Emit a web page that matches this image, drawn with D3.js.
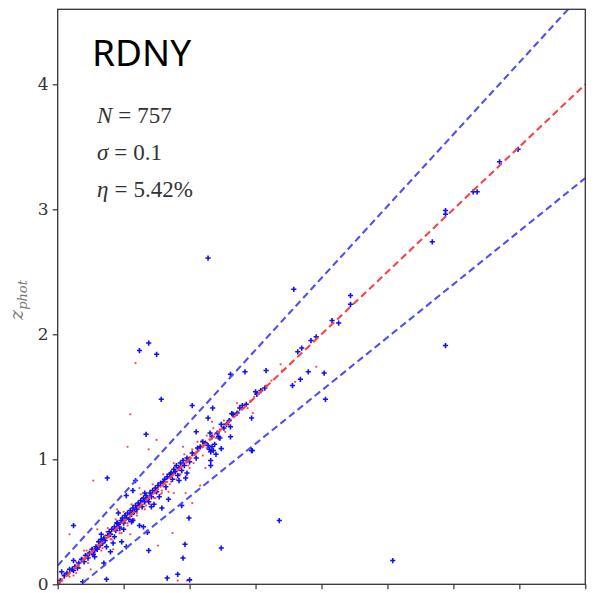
<!DOCTYPE html>
<html><head><meta charset="utf-8">
<script src="https://cdn.jsdelivr.net/npm/d3@7"></script>
<style>html,body{margin:0;padding:0;background:#fff;overflow:hidden}</style>
</head><body>
<script>
// ---- data (zspec, zphot) ----
const xTicks = [0,0.5,1,1.5,2,2.5,3,3.5,4];
const yTicks = [0,1,2,3,4];
const titleText = "RDNY";
const statsLines = [["N","757"],["σ","0.1"],["η","5.42%"]];

const blueMain = [
[0.02,0.03],[0.03,0.10],[0.05,0.07],[0.07,0.09],[0.09,0.12],[0.11,0.12],[0.12,0.11],[0.12,0.19],[0.13,0.14],[0.15,0.13],
[0.16,0.17],[0.18,0.20],[0.19,0.02],[0.20,0.18],[0.21,0.23],[0.23,0.21],[0.24,0.25],[0.26,0.28],[0.27,0.24],[0.28,0.27],
[0.29,0.30],[0.30,0.28],[0.31,0.34],[0.32,0.31],[0.33,0.36],[0.34,0.33],[0.35,0.17],[0.35,0.37],[0.36,0.35],[0.37,0.30],
[0.37,0.04],[0.38,0.39],[0.39,0.42],[0.40,0.26],[0.40,0.40],[0.41,0.44],[0.42,0.33],[0.43,0.46],[0.44,0.43],[0.45,0.49],
[0.46,0.48],[0.46,0.57],[0.47,0.45],[0.48,0.51],[0.485,0.34],[0.49,0.53],[0.50,0.49],[0.51,0.55],[0.52,0.30],[0.52,0.53],
[0.53,0.57],[0.54,0.52],[0.55,0.59],[0.56,0.56],[0.57,0.51],[0.57,0.61],[0.58,0.58],[0.59,0.63],[0.60,0.60],[0.61,0.65],
[0.62,0.47],[0.62,0.63],[0.63,0.67],[0.64,0.62],[0.65,0.46],[0.65,0.69],[0.66,0.66],[0.67,0.71],[0.68,0.415],[0.68,0.68],
[0.69,0.66],[0.69,0.27],[0.70,0.73],[0.71,0.70],[0.72,0.75],[0.73,0.64],[0.74,0.77],[0.75,0.74],[0.76,0.79],[0.78,0.81],
[0.79,0.61],[0.80,0.82],[0.81,0.84],[0.83,0.86],[0.84,0.68],[0.85,0.88],[0.86,0.89],[0.87,0.84],[0.88,0.92],[0.89,0.90],
[0.90,0.95],[0.91,0.87],[0.92,0.93],[0.93,0.97],[0.94,0.63],[0.94,0.91],[0.95,0.99],[0.96,0.95],[0.97,0.85],[0.98,1.01],
[0.995,0.53],[1.00,0.98],[1.02,1.05],[1.05,1.01],[1.05,1.22],[1.06,1.09],[1.08,1.10],[1.10,1.14],[1.12,1.13],[1.14,1.11],
[1.15,1.08],[1.16,1.06],[1.16,0.99],[1.16,0.95],[1.17,1.10],[1.18,1.07],[1.19,1.12],[1.20,1.04],[1.21,1.21],[1.22,1.18],
[1.24,1.085],[1.24,1.28],[1.26,1.25],[1.28,1.28],[1.30,1.31],[1.31,1.26],[1.33,1.36],[1.36,1.37],[1.38,1.41],[1.40,1.43],
[1.43,1.44],[1.47,1.33],[1.475,1.07],[1.50,1.54],[1.51,1.52],[1.54,1.55],[1.57,1.57],
[0.28,0.22],[0.33,0.40],[0.43,0.38],[0.50,0.44],[0.56,0.50],[0.66,0.73],[0.71,0.62],[0.77,0.70],[0.82,0.78],[0.92,0.83]
];
const blueOut = [
[0.12,0.47],[0.376,0.85],[0.59,0.83],[0.57,0.75],[0.52,0.71],[0.45,0.49],[0.62,1.87],[0.69,1.93],[0.75,1.84],[0.785,1.48],
[0.67,1.20],[1.02,1.43],[1.175,1.41],[1.32,1.365],[1.14,1.33],[1.23,1.17],[1.31,1.18],[1.155,1.21],[1.17,1.18],[1.14,2.61],
[1.31,1.68],[1.42,1.70],[1.58,1.71],[1.78,1.59],[1.79,2.36],[1.82,1.86],[1.84,1.64],[1.85,1.89],[1.90,1.70],[1.92,1.95],
[1.96,1.98],[2.02,1.69],[2.03,1.48],[2.08,2.11],[2.13,2.09],[2.22,2.24],[2.22,2.31],[2.84,2.74],[2.94,2.96],[2.94,2.99],
[2.94,1.91],[3.15,3.14],[3.18,3.14],[3.35,3.38],[3.49,3.48],[2.54,0.19],[1.68,0.51],[0.83,0.05],[0.91,0.08],[1.00,0.035],
[0.95,0.21],[0.965,0.32],[1.24,0.29],[0.98,0.89],[0.86,0.89],[1.47,1.07]
];
const redMain = [
[0.01,0.01],[0.03,0.04],[0.05,0.05],[0.06,0.08],[0.08,0.07],[0.10,0.11],[0.12,0.12],[0.13,0.15],[0.15,0.16],[0.16,0.14],
[0.18,0.19],[0.19,0.21],[0.21,0.20],[0.22,0.24],[0.24,0.23],[0.25,0.26],[0.26,0.29],[0.27,0.27],[0.28,0.30],[0.29,0.28],
[0.30,0.31],[0.31,0.29],[0.32,0.33],[0.33,0.35],[0.34,0.32],[0.35,0.36],[0.36,0.39],[0.37,0.37],[0.38,0.40],[0.39,0.38],
[0.40,0.42],[0.41,0.40],[0.42,0.44],[0.43,0.43],[0.44,0.46],[0.45,0.44],[0.46,0.47],[0.47,0.49],[0.48,0.46],[0.49,0.50],
[0.50,0.52],[0.51,0.50],[0.52,0.54],[0.53,0.53],[0.54,0.56],[0.55,0.54],[0.56,0.58],[0.57,0.57],[0.58,0.60],[0.59,0.59],
[0.60,0.62],[0.61,0.60],[0.62,0.65],[0.63,0.63],[0.64,0.66],[0.65,0.64],[0.66,0.68],[0.67,0.67],[0.68,0.70],[0.69,0.68],
[0.70,0.71],[0.71,0.73],[0.72,0.72],[0.73,0.75],[0.74,0.73],[0.75,0.77],[0.76,0.76],[0.77,0.79],[0.78,0.78],[0.79,0.81],
[0.80,0.79],[0.81,0.83],[0.82,0.84],[0.83,0.82],[0.84,0.85],[0.85,0.87],[0.86,0.86],[0.87,0.88],[0.88,0.90],[0.89,0.89],
[0.90,0.91],[0.91,0.93],[0.92,0.92],[0.93,0.94],[0.94,0.96],[0.95,0.95],[0.96,0.97],[0.97,0.99],[0.98,0.98],[0.99,1.00],
[1.00,1.02],[1.01,1.01],[1.02,1.03],[1.03,1.05],[1.04,1.04],[1.05,1.06],[1.06,1.08],[1.07,1.07],[1.08,1.09],[1.09,1.11],
[1.10,1.10],[1.11,1.12],[1.12,1.14],[1.13,1.13],[1.15,1.16],[1.17,1.18],[1.19,1.20],[1.21,1.22],[1.23,1.24],[1.25,1.26],
[1.27,1.28],[1.29,1.30],[1.31,1.32],[1.33,1.34],[1.35,1.36],[1.37,1.38],[1.40,1.41],[1.43,1.44],[1.46,1.47],[1.49,1.50],
[1.52,1.53],[1.55,1.56],[1.58,1.59],
[0.04,0.07],[0.09,0.06],[0.14,0.18],[0.17,0.13],[0.22,0.27],[0.26,0.23],[0.31,0.35],[0.34,0.29],[0.37,0.42],[0.40,0.36],
[0.44,0.49],[0.47,0.43],[0.51,0.56],[0.53,0.49],[0.57,0.63],[0.60,0.57],[0.64,0.69],[0.67,0.63],[0.70,0.75],[0.73,0.69],
[0.76,0.81],[0.79,0.75],[0.83,0.88],[0.86,0.82],[0.89,0.94],[0.92,0.88],[0.95,1.00],[0.99,0.95],[1.02,1.08],[1.05,1.02],
[1.09,1.15],[1.13,1.09],[1.16,1.21],[1.20,1.17],[1.26,1.31],[1.30,1.27],[1.38,1.43],[1.44,1.41],[1.62,1.63],[1.70,1.71]
];
const redOut = [
[0.59,1.77],[0.55,1.36],[0.53,1.10],[0.75,1.155],[0.69,1.08],[0.27,0.83],[0.09,0.40],[0.87,0.41],[0.76,0.31],[1.02,0.65],
[1.08,0.79],[1.17,1.30],[1.48,1.37],[1.69,1.76],[1.80,1.62],[1.96,1.74],[0.91,0.03],[0.98,0.03],[0.19,0.19],[0.12,0.07],
[0.14,0.09],[0.20,0.27],[0.23,0.17],[0.33,0.27],[0.38,0.45],[0.41,0.36],[0.44,0.52],[0.47,0.41],[0.50,0.58],[0.53,0.47],
[0.56,0.64],[0.58,0.52],[0.60,0.55],[0.63,0.72],[0.66,0.60],[0.70,0.64],[0.72,0.80],[0.74,0.69],[0.78,0.72],[0.80,0.88],
[0.82,0.76],[0.85,0.80],[0.88,0.97],[0.90,0.84],[0.93,0.88],[0.96,1.04],[1.00,0.93],[1.03,0.97],[1.06,1.14],[1.10,1.03],
[1.13,1.19],[1.18,1.25],[1.22,1.16],[1.27,1.22],[1.36,1.45],[1.12,0.93],[0.97,0.73],[0.62,0.77],[0.45,0.60],[0.30,0.44],
[0.25,0.12],[0.42,0.28],[0.55,0.40],[0.95,1.10],[0.79,0.73],[0.84,0.74],[0.88,0.73],[0.46,0.58],[0.485,0.41],[0.31,0.30]
];
const dashX = [0, 4];

// ---- layout ----
const W = 600, H = 593;
const L = 57.7, R = 585.3, T = 9.3, B = 584.3;
const x = d3.scaleLinear().domain([0,4]).range([L,R]);
const y = d3.scaleLinear().domain([0,4.6]).range([B,T]);

const svg = d3.select("body").append("svg").attr("width",W).attr("height",H);
svg.append("defs").append("clipPath").attr("id","clip")
  .append("rect").attr("x",L).attr("y",T).attr("width",R-L).attr("height",B-T);

const plot = svg.append("g").attr("clip-path","url(#clip)");

// red dots
plot.append("g").selectAll("circle").data(redMain.concat(redOut)).join("circle")
  .attr("cx",d=>x(d[0])).attr("cy",d=>y(d[1])).attr("r",1.15)
  .attr("fill","#ff2020").attr("fill-opacity",0.8);

// blue plus markers
plot.append("g").selectAll("path").data(blueMain.concat(blueOut)).join("path")
  .attr("transform",d=>`translate(${x(d[0])},${y(d[1])})`)
  .attr("d","M-2.6,0H2.6M0,-2.6V2.6")
  .attr("stroke","#1010f0").attr("stroke-width",1.6).attr("fill","none");

// dashed lines
const line = d3.line().x(d=>x(d[0])).y(d=>y(d[1]));
const dash = "7,4";
plot.append("path").datum(dashX.map(v=>[v,1.15*v+0.15])).attr("d",line)
  .attr("stroke","#5050ee").attr("stroke-width",2.1).attr("stroke-dasharray",dash).attr("fill","none");
plot.append("path").datum(dashX.map(v=>[v,0.85*v-0.15])).attr("d",line)
  .attr("stroke","#5050ee").attr("stroke-width",2.1).attr("stroke-dasharray",dash).attr("fill","none");
plot.append("path").datum(dashX.map(v=>[v,v])).attr("d",line)
  .attr("stroke","#f04848").attr("stroke-width",2.1).attr("stroke-dasharray",dash).attr("fill","none");

// frame
svg.append("rect").attr("x",L).attr("y",T).attr("width",R-L).attr("height",B-T)
  .attr("fill","none").attr("stroke","#333").attr("stroke-width",1.3);

// axes
const yAxis = svg.append("g").attr("transform",`translate(${L},0)`)
  .call(d3.axisLeft(y).tickValues(yTicks).tickSize(5).tickPadding(4).tickFormat(d3.format("d")));
yAxis.select(".domain").remove();
yAxis.selectAll("line").attr("stroke","#333").attr("stroke-width",1.2);
yAxis.selectAll("text").attr("font-family","'DejaVu Serif', serif").attr("font-size",17).attr("fill","#333");

const xAxis = svg.append("g").attr("transform",`translate(0,${B})`)
  .call(d3.axisBottom(x).tickValues(xTicks).tickSize(5).tickFormat(""));
xAxis.select(".domain").remove();
xAxis.selectAll("line").attr("stroke","#333").attr("stroke-width",1.2);

// y label
const yl = svg.append("text").attr("transform","translate(23,300) rotate(-90)")
  .attr("text-anchor","middle").attr("fill","#777")
  .attr("font-family","'DejaVu Serif', serif").attr("font-style","italic");
yl.append("tspan").attr("font-size",19).text("z");
yl.append("tspan").attr("font-size",13).attr("dy",4).text("phot");

// title
svg.append("text").attr("x",92).attr("y",66).attr("font-family","'Noto Sans', sans-serif")
  .attr("font-size",37).attr("fill","#000").text(titleText);

// stats
statsLines.forEach((s,i)=>{
  const t = svg.append("text").attr("x",97).attr("y",123+i*37)
    .attr("font-family","'Liberation Serif', serif").attr("font-size",23).attr("fill","#333");
  t.append("tspan").attr("font-style","italic").text(s[0]);
  t.append("tspan").attr("dx",6).text("=");
  t.append("tspan").attr("dx",6).text(s[1]);
});
</script>
</body></html>
